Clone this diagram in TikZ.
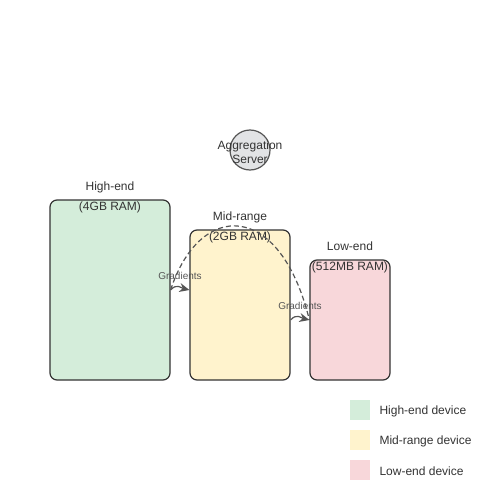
\documentclass[tikz,border=0pt]{standalone}
\usepackage{fontspec}
\setmainfont{Liberation Sans}
\usetikzlibrary{positioning,arrows.meta}
\definecolor{highfill}{HTML}{D4EDDA}
\definecolor{midfill}{HTML}{FFF3CD}
\definecolor{lowfill}{HTML}{F8D7DA}
\definecolor{servfill}{HTML}{E2E3E5}
\definecolor{ink}{HTML}{333333}
\definecolor{wire}{HTML}{555555}
\tikzset{device/.style={draw=ink,line width=1.2pt,rounded corners=7pt,inner sep=0pt},
  devlabel/.style={text=ink,align=center,font=\fontsize{12}{20}\selectfont},
  gradlabel/.style={text=wire,font=\fontsize{10}{12}\selectfont},
  gradflow/.style={wire,line width=1.2pt,-{Stealth[length=10pt,width=9pt]}},
  swatch/.style={minimum size=20pt,inner sep=0pt},
  legtext/.style={text=ink,anchor=west,font=\fontsize{12}{14}\selectfont}}

\begin{document}
\begin{tikzpicture}[x=1pt,y=-1pt]
    \useasboundingbox (0,0) rectangle (500,500);
    \node[device,fill=highfill,minimum width=120pt,minimum height=180pt] (high) at (110,290) {};
    \node[device,fill=midfill,minimum width=100pt,minimum height=150pt] (mid) at (240,305) {};
    \node[device,fill=lowfill,minimum width=80pt,minimum height=120pt] (low) at (350,320) {};
    \node[circle,draw=wire,line width=1.2pt,fill=servfill,minimum size=40pt,inner sep=0pt] (server) at (250,150) {};
    \node[text=ink,align=center,font=\fontsize{12}{14}\selectfont] (servlab) at (250,152) {Aggregation\\Server};
    \node[devlabel] (highlab) at ([yshift=2pt]high.north) {High-end\\(4GB RAM)};
    \node[devlabel] (midlab) at ([yshift=2pt]mid.north) {Mid-range\\(2GB RAM)};
    \node[devlabel] (lowlab) at ([yshift=2pt]low.north) {Low-end\\(512MB RAM)};
    \draw[wire,line width=1.2pt,dash pattern=on 5pt off 3pt] (high.east) .. controls (200,200) and (280,200) .. (low.west);
    \draw[gradflow] (high.east) .. controls +(6,-7) and +(-8,-2) .. (high.east -| mid.west);
    \draw[gradflow] (low.west -| mid.east) .. controls +(6,-7) and +(-8,-2) .. (low.west);
    \node[gradlabel] (grad1) at (180,276) {Gradients};
    \node[gradlabel] (grad2) at (300,306) {Gradients};
    \node[swatch,fill=highfill] (sw1) at (360,410) {};
    \node[swatch,fill=midfill] (sw2) at (360,440) {};
    \node[swatch,fill=lowfill] (sw3) at (360,470) {};
    \node[legtext] (leg1) at (376,411) {High-end device};
    \node[legtext] (leg2) at (376,441) {Mid-range device};
    \node[legtext] (leg3) at (376,471) {Low-end device};
  \end{tikzpicture}
\end{document}
